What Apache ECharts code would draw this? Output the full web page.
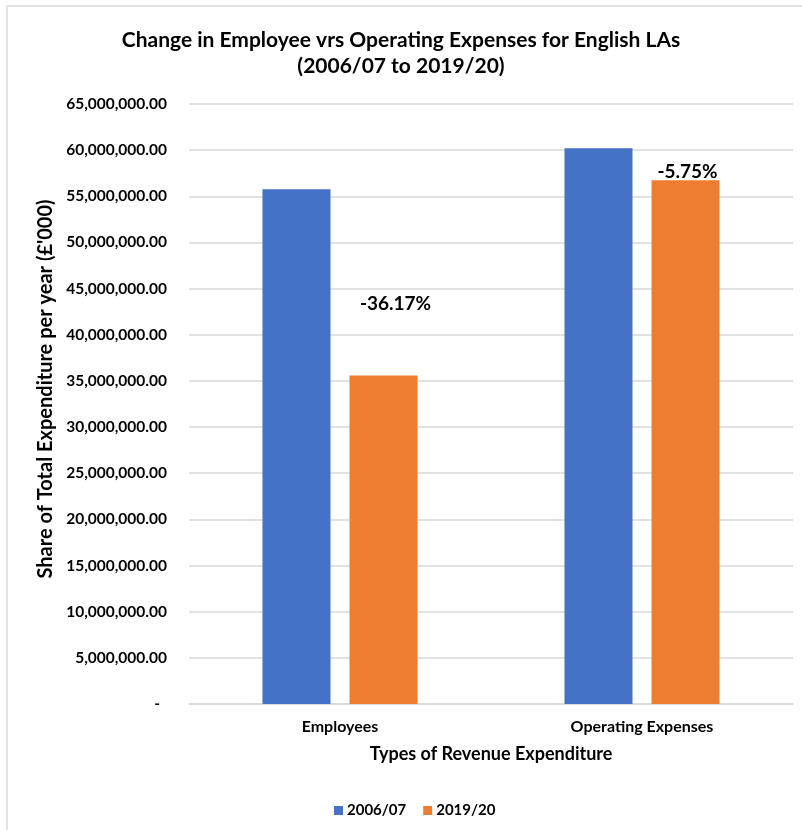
<!DOCTYPE html>
<html>
<head>
<meta charset="utf-8">
<script src="https://cdn.jsdelivr.net/npm/echarts@6/dist/echarts.min.js"></script>
<style>
  html, body { margin: 0; padding: 0; background: #ffffff; }
  #chart { width: 802px; height: 830px; }
</style>
</head>
<body>
<div id="chart"></div>
<script>
// Revenue expenditure types and spend per year (£'000)
const categories = ['Employees', 'Operating Expenses'];
const seriesNames = ['2006/07', '2019/20'];
const spend200607 = [55760000, 60200000];
const spend201920 = [35590000, 56740000];
const yTicks = { min: 0, max: 65000000, interval: 5000000 };

const FONT = 'Lato, "Open Sans", sans-serif';
const TEXT = '#000000';
const GRID_LINE = '#d9d9d9';

function fmtMoney(v) {
  if (v === 0) return '{z|-}';
  return v.toLocaleString('en-GB', { minimumFractionDigits: 2, maximumFractionDigits: 2 });
}

function pctChange(i) {
  const p = (spend201920[i] - spend200607[i]) / spend200607[i] * 100;
  return p.toFixed(2) + '%';
}

const chart = echarts.init(document.getElementById('chart'), null, { renderer: 'canvas' });

chart.setOption({
  backgroundColor: '#ffffff',
  animation: false,
  textStyle: { fontFamily: FONT },
  title: {
    text: 'Change in Employee vrs Operating Expenses for English LAs\n(2006/07 to 2019/20)',
    left: 'center',
    top: 22,
    textStyle: { fontFamily: FONT, fontSize: 21, fontWeight: 'bold', color: TEXT, lineHeight: 26 }
  },
  graphic: [
    {
      type: 'rect',
      shape: { x: 7, y: 6, width: 820, height: 840 },
      style: { fill: 'none', stroke: '#d9d9d9', lineWidth: 1.5 },
      silent: true,
      z: -1
    },
    {
      type: 'text',
      x: 46,
      y: 389,
      rotation: Math.PI / 2,
      style: {
        text: "Share of Total Expenditure per year (£'000)",
        fontFamily: FONT,
        fontSize: 20,
        fontWeight: 'bold',
        fill: TEXT,
        align: 'center',
        verticalAlign: 'middle'
      }
    }
  ],
  legend: {
    data: seriesNames,
    left: 329,
    top: 798,
    itemWidth: 9,
    itemHeight: 9,
    itemGap: 17,
    icon: 'rect',
    textStyle: { fontFamily: FONT, fontSize: 15, fontWeight: 'bold', color: TEXT, padding: [0, 0, 0, -1] }
  },
  grid: { left: 189, right: 9, top: 104, bottom: 126, containLabel: false },
  xAxis: {
    type: 'category',
    data: categories,
    name: 'Types of Revenue Expenditure',
    nameLocation: 'middle',
    nameGap: 41,
    nameTextStyle: { fontFamily: FONT, fontSize: 18, fontWeight: 'bold', color: TEXT },
    axisLine: { lineStyle: { color: GRID_LINE, width: 1.5 } },
    axisTick: { show: false },
    axisLabel: { margin: 15, fontFamily: FONT, fontSize: 16, fontWeight: 'bold', color: TEXT }
  },
  yAxis: {
    type: 'value',
    min: yTicks.min,
    max: yTicks.max,
    interval: yTicks.interval,
    axisLine: { show: false },
    axisTick: { show: false },
    splitLine: { lineStyle: { color: GRID_LINE, width: 1.5 } },
    axisLabel: {
      margin: 22,
      fontFamily: FONT,
      fontSize: 15.5,
      fontWeight: 'bold',
      color: TEXT,
      formatter: fmtMoney,
      rich: { z: { fontFamily: FONT, fontSize: 15.5, fontWeight: 'bold', color: TEXT, padding: [0, 7, 0, 0] } }
    }
  },
  series: [
    {
      name: seriesNames[0],
      type: 'bar',
      data: spend200607,
      barWidth: 68,
      barGap: '28%',
      itemStyle: { color: '#4472c4' }
    },
    {
      name: seriesNames[1],
      type: 'bar',
      data: spend201920.map((v, i) => ({
        value: v,
        label: { offset: i === 0 ? [12, -57] : [2, 6] }
      })),
      barWidth: 68,
      barGap: '28%',
      itemStyle: { color: '#ed7d31' },
      label: {
        show: true,
        position: 'top',
        fontFamily: FONT,
        fontSize: 19,
        fontWeight: 'bold',
        color: TEXT,
        formatter: p => pctChange(p.dataIndex)
      }
    }
  ]
});
</script>
</body>
</html>
